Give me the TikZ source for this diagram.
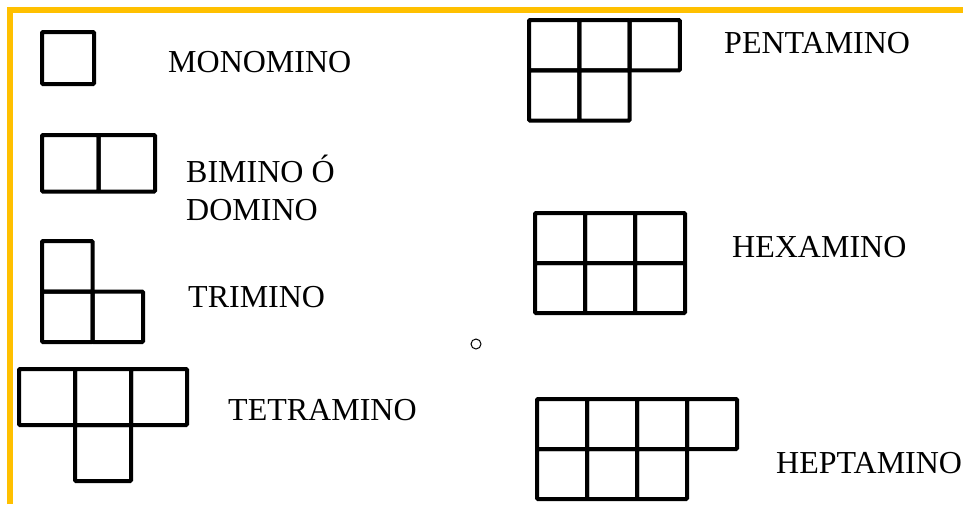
\documentclass[tikz,border=0pt]{standalone}
\usepackage{fontspec}
\setmainfont{Liberation Serif}
\usetikzlibrary{positioning}
\definecolor{frameorange}{HTML}{FFC000}

\begin{document}
\begin{tikzpicture}[x=1pt, y=-1pt, font=\fontsize{32}{38}\selectfont,
  cell/.style={draw=black, line width=4pt, rounded corners=1pt},
  lbl/.style={anchor=base west, inner sep=0pt}]
  \useasboundingbox (0,0) rectangle (963,504);
  \draw[frameorange, line width=6pt] (10,504) -- (10,10) -- (963,10);
  % origin x / origin y / cell size / cells (column/row)
  \foreach \ox/\oy/\s/\cells in {42/32/52/{0/0}, 42/135/56.5/{0/0,1/0},
    42/241/50.5/{0/0,0/1,1/1}, 19/369/56/{0/0,1/0,2/0,1/1},
    529/20/50.3/{0/0,1/0,2/0,0/1,1/1}, 535/213/50/{0/0,1/0,2/0,0/1,1/1,2/1},
    537/399/50/{0/0,1/0,2/0,3/0,0/1,1/1,2/1}}{
    \foreach \i/\j in \cells
      \draw[cell] ({\ox+\s*\i},{\oy+\s*\j}) rectangle ++(\s,\s);
  }
  \node[lbl] (mono) at (168,72) {MONOMINO};
  \node[lbl] (bi) at (186,182) {BIMINO Ó};
  \node[lbl] (domino) at (186,220) {DOMINO};
  \node[lbl] (tri) at (188,307) {TRIMINO};
  \node[lbl] (tetra) at (228,420) {TETRAMINO};
  \node[lbl] (penta) at (724,53) {PENTAMINO};
  \node[lbl] (hexa) at (732,257) {HEXAMINO};
  \node[lbl] (hepta) at (776,473) {HEPTAMINO};
  \node[circle, draw, line width=1pt, minimum size=10pt, inner sep=0pt] (dot) at (476,344) {};
\end{tikzpicture}
\end{document}
